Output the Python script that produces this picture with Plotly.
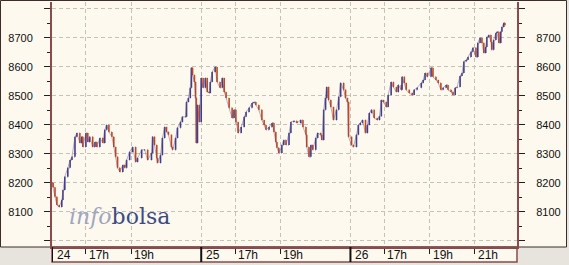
import plotly.graph_objects as go

# ---------------- data ----------------
day_labels = ["24", "25", "26"]

times_24 = ["15:30", "15:33", "15:38", "15:43", "15:49", "15:56", "15:59", "16:04", "16:12", "16:18",
            "16:23", "16:31", "16:36", "16:44", "16:49", "16:52", "17:00", "17:05", "17:10", "17:18",
            "17:24", "17:29", "17:37", "17:45", "17:50", "17:55", "18:01", "18:09", "18:14", "18:19",
            "18:24", "18:30", "18:38", "18:43", "18:48", "18:56", "19:04", "19:12", "19:17", "19:28",
            "19:36", "19:44", "19:54", "19:57", "20:02", "20:08", "20:10", "20:18", "20:23", "20:29",
            "20:34", "20:39", "20:47", "20:50", "20:58", "21:03", "21:11", "21:16", "21:24", "21:27",
            "21:32", "21:37", "21:40", "21:43", "21:48", "21:51", "21:53", "21:56", "22:01"]
close_24 = [8200, 8185, 8152, 8124, 8117, 8141, 8176, 8221, 8252, 8279,
            8290, 8359, 8372, 8338, 8359, 8324, 8372, 8341, 8359, 8324,
            8341, 8324, 8355, 8338, 8383, 8400, 8376, 8359, 8324, 8290,
            8252, 8238, 8262, 8252, 8279, 8307, 8324, 8272, 8286, 8314,
            8314, 8279, 8303, 8359, 8331, 8286, 8269, 8296, 8355, 8393,
            8376, 8366, 8324, 8314, 8355, 8390, 8410, 8428, 8428, 8479,
            8493, 8528, 8597, 8572, 8548, 8493, 8338, 8469, 8410]

times_25 = ["15:30", "15:35", "15:41", "15:46", "15:51", "15:54", "15:59", "16:07", "16:12", "16:20",
            "16:26", "16:31", "16:36", "16:44", "16:52", "16:57", "17:02", "17:08", "17:16", "17:24",
            "17:29", "17:37", "17:45", "17:50", "17:55", "18:03", "18:11", "18:17", "18:22", "18:30",
            "18:38", "18:43", "18:48", "18:51", "18:56", "19:04", "19:09", "19:15", "19:23", "19:28",
            "19:36", "19:44", "19:54", "20:00", "20:08", "20:10", "20:16", "20:21", "20:26", "20:34",
            "20:39", "20:47", "20:50", "20:55", "21:00", "21:03", "21:08", "21:14", "21:21", "21:29",
            "21:35", "21:40", "21:48", "21:53", "21:58", "22:01"]
close_25 = [8562, 8528, 8562, 8514, 8510, 8548, 8583, 8600, 8548, 8528,
            8562, 8514, 8493, 8459, 8424, 8452, 8410, 8372, 8393, 8428,
            8445, 8459, 8476, 8479, 8469, 8452, 8417, 8400, 8383, 8393,
            8407, 8376, 8341, 8321, 8303, 8331, 8348, 8331, 8372, 8410,
            8414, 8407, 8417, 8393, 8366, 8324, 8290, 8331, 8314, 8355,
            8372, 8366, 8348, 8452, 8493, 8531, 8486, 8462, 8417, 8452,
            8497, 8545, 8521, 8493, 8479, 8359]

times_26 = ["15:33", "15:38", "15:46", "15:51", "15:56", "16:02", "16:10", "16:15", "16:20", "16:26",
            "16:33", "16:41", "16:47", "16:52", "16:57", "17:05", "17:10", "17:18", "17:24", "17:32",
            "17:37", "17:45", "17:47", "17:53", "17:58", "18:06", "18:14", "18:19", "18:27", "18:38",
            "18:43", "18:48", "18:54", "19:04", "19:09", "19:17", "19:23", "19:30", "19:36", "19:44",
            "19:49", "19:57", "20:02", "20:08", "20:13", "20:21", "20:26", "20:31", "20:37", "20:42",
            "20:50", "20:55", "21:03", "21:08", "21:14", "21:19", "21:24", "21:29", "21:32", "21:37",
            "21:43", "21:45", "21:50", "21:56", "21:59", "22:04", "22:09", "22:12", "22:17", "22:20"]
close_26 = [8331, 8324, 8366, 8400, 8407, 8417, 8372, 8400, 8441, 8452,
            8424, 8417, 8430, 8486, 8479, 8462, 8503, 8548, 8531, 8514,
            8538, 8521, 8566, 8545, 8521, 8510, 8503, 8521, 8528, 8545,
            8555, 8579, 8566, 8597, 8566, 8555, 8545, 8521, 8528, 8538,
            8521, 8514, 8503, 8528, 8531, 8569, 8579, 8619, 8624, 8634,
            8652, 8666, 8634, 8683, 8700, 8683, 8648, 8669, 8703, 8710,
            8686, 8659, 8693, 8717, 8721, 8683, 8721, 8738, 8752, 8745]

hour_labels = ["17h", "19h", "21h"]
hour_times = ["17:00", "19:00", "21:00"]
hours_shown = {"24": ["17h", "19h"], "25": ["17h", "19h"], "26": ["17h", "19h", "21h"]}

y_labels = [8100, 8200, 8300, 8400, 8500, 8600, 8700]

# ---------------- build session-time axis ----------------
SESSION_OPEN = 15 * 60 + 30
DAY_SPAN = 396  # minutes of axis allotted per session


def tmin(s):
    h, m = s.split(":")
    return int(h) * 60 + int(m)


days = {"24": (times_24, close_24), "25": (times_25, close_25), "26": (times_26, close_26)}
xs, cl = [], []
for d, lab in enumerate(day_labels):
    t, c = days[lab]
    for ti, ci in zip(t, c):
        xs.append(d * DAY_SPAN + tmin(ti) - SESSION_OPEN)
        cl.append(ci)
op = [cl[0]] + cl[:-1]
hi = [max(a, b) for a, b in zip(op, cl)]
lo = [min(a, b) for a, b in zip(op, cl)]

day_pos = [d * DAY_SPAN for d in range(len(day_labels))]
hour_pos, hour_txt = [], []
for d, lab in enumerate(day_labels):
    for hl, ht in zip(hour_labels, hour_times):
        if hl in hours_shown[lab]:
            hour_pos.append(d * DAY_SPAN + tmin(ht) - SESSION_OPEN)
            hour_txt.append(hl)

# ---------------- styling ----------------
CREAM = "#fdf9ee"
GRAY = "#e6e4dc"
BROWN = "#8c4a4a"
DARK = "#3c2c2c"
GRID = "#c6c2b6"
BLUE = "#3e3e8e"
RED = "#c4481f"

W, H = 569, 265
L, R, T, B = 52, 52, 2, 18
pw, ph = W - L - R, H - T - B


def px(x):
    return (x - L) / pw


def py(y):
    return (H - B - y) / ph


fig = go.Figure()
# thin connecting trace underneath, so the dense bars read as one continuous series
fig.add_trace(go.Scatter(x=xs, y=cl, mode="lines", line=dict(color="#6a4a7a", width=0.8),
                         opacity=0.55, hoverinfo="skip", showlegend=False))
fig.add_trace(go.Ohlc(
    x=xs, open=op, high=hi, low=lo, close=cl,
    increasing=dict(line=dict(color=BLUE, width=1.6)),
    decreasing=dict(line=dict(color=RED, width=1.6)),
    tickwidth=0.5, hoverinfo="skip", showlegend=False,
))
fig.add_trace(go.Scatter(x=[xs[0]], y=[cl[0]], yaxis="y2", mode="markers",
                         marker=dict(opacity=0), hoverinfo="skip", showlegend=False))

yr = [7979, 8824]
yt = list(range(8000, 8801, 100))
ytxt = [str(v) if v in y_labels else "" for v in yt]
yax = dict(range=yr, tickvals=yt, ticktext=ytxt, showline=True, linecolor=BROWN, linewidth=2,
           ticks="outside", ticklen=6, tickcolor="#202020", tickwidth=1,
           showgrid=True, gridcolor=GRID, gridwidth=1, griddash="4px,3px", zeroline=False,
           tickfont=dict(family="Liberation Sans, Arial", size=11, color="#111111"),
           ticklabelstandoff=9, fixedrange=True,
           minor=dict(tickvals=list(range(8050, 8800, 100)), ticks="outside", ticklen=3,
                      tickcolor="#202020", showgrid=False))

fig.update_layout(
    width=W, height=H, margin=dict(l=L, r=R, t=T, b=B, pad=0),
    paper_bgcolor=GRAY, plot_bgcolor=CREAM, showlegend=False,
    xaxis=dict(range=[0, 1234], tickvals=day_pos + hour_pos, showticklabels=False,
               ticks="outside", ticklen=5, tickcolor="#202020", tickwidth=1,
               showline=True, linecolor=BROWN, linewidth=2, zeroline=False,
               showgrid=True, gridcolor=GRID, gridwidth=1, griddash="4px,3px",
               rangeslider=dict(visible=False), fixedrange=True),
    yaxis=dict(side="left", **yax),
    yaxis2=dict(side="right", overlaying="y", **yax),
)

shapes = [
    # cream chart box (left and right panels) with dark frame
    dict(type="rect", xref="paper", yref="paper", x0=px(0.5), x1=px(566.5), y0=py(247), y1=py(0.5),
         fillcolor=CREAM, line=dict(color=DARK, width=1), layer="below"),
    # x label band
    dict(type="rect", xref="paper", yref="paper", x0=px(L), x1=px(517), y0=py(262), y1=py(247),
         fillcolor=CREAM, line=dict(color=BROWN, width=1.5), layer="below"),
]
for dp in day_pos:
    shapes.append(dict(type="line", xref="x", yref="paper", x0=dp, x1=dp, y0=py(247), y1=py(262),
                       line=dict(color="#111111", width=2)))
fig.update_layout(shapes=shapes)

ann = []
for dp, lab in zip(day_pos, day_labels):
    ann.append(dict(x=dp, xref="x", y=py(255), yref="paper", text=lab, showarrow=False,
                    xanchor="left", yanchor="middle", xshift=3,
                    font=dict(family="Liberation Sans, Arial", size=12, color="#111111")))
for hp, lab in zip(hour_pos, hour_txt):
    ann.append(dict(x=hp, xref="x", y=py(255), yref="paper", text=lab, showarrow=False,
                    xanchor="left", yanchor="middle", xshift=1,
                    font=dict(family="Liberation Sans, Arial", size=12, color="#111111")))
ann.append(dict(x=px(67), xref="paper", y=py(216), yref="paper", showarrow=False,
                xanchor="left", yanchor="middle",
                text="<span style='color:#a0a5c0'><i>info</i></span><span style='color:#3f4b86'>bolsa</span>",
                font=dict(family="DejaVu Serif", size=22)))
fig.update_layout(annotations=ann)

fig.write_html("out.html")
